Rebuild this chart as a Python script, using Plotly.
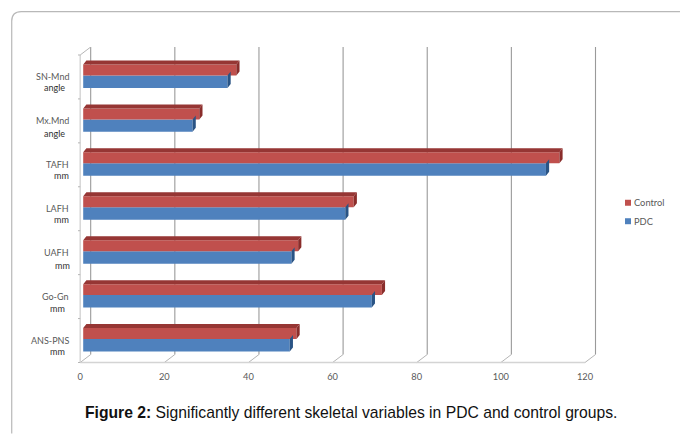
import plotly.graph_objects as go

categories = ["ANS-PNS", "Go-Gn", "UAFH", "LAFH", "TAFH", "Mx.Mnd", "SN-Mnd"]
units = ["mm", "mm", "mm", "mm", "mm", "angle", "angle"]
control = [50.7, 71.0, 51.1, 64.3, 113.2, 27.6, 36.4]
pdc = [49.1, 68.6, 49.5, 62.3, 110.0, 26.0, 34.3]
x_ticks = [0, 20, 40, 60, 80, 100, 120]

W, H = 680, 434
X0, XK = 80.0, 505.0 / 120      # px of value 0, px per unit
Y0, YK = 341.0, 44.0            # px of category 0, px per category
L, R, T, B = 75.8, 600.0, 47.0, 365.5
xr = [(L - X0) / XK, (R - X0) / XK]
yr = [(Y0 - B) / YK, (Y0 - T) / YK]
px = lambda v: v / XK
py = lambda v: v / YK
pap_x = lambda p: (p - L) / (R - L)
pap_y = lambda p: (B - p) / (B - T)

BASE = px(3)
DX, DY = px(3.2), py(4.0)
WALL_X, WALL_Y = px(10.5), py(8)
RED_HI, RED_LO = py(12.5), py(1.5)
BLUE_HI, BLUE_LO = py(1.5), py(-11)
idx = list(range(len(categories)))
FLOOR = -0.5
TOP = len(categories) - 0.5
FONT = "Lato"
TXT_SIZE = 9.3
CAT_SIZE = 9

fig = go.Figure()

# Front faces
fig.add_bar(orientation="h", y=idx, x=pdc, base=BASE, offset=BLUE_LO, width=BLUE_HI - BLUE_LO,
            name="PDC", marker=dict(color="#4f81bd", line_width=0), showlegend=False)
fig.add_bar(orientation="h", y=idx, x=control, base=BASE, offset=RED_LO, width=RED_HI - RED_LO,
            name="Control", marker=dict(color="#c0504d", line_width=0), showlegend=False)


def side_faces(values, lo, hi, color):
    xs, ys = [], []
    for i, v in zip(idx, values):
        e = BASE + v
        xs += [e, e + DX, e + DX, e, None]
        ys += [i + hi, i + hi + DY, i + lo + DY, i + lo, None]
    fig.add_scatter(x=xs, y=ys, mode="lines", fill="toself", fillcolor=color,
                    line=dict(width=0, color=color), showlegend=False, hoverinfo="skip")


def top_faces(values, hi, color):
    xs, ys = [], []
    for i, v in zip(idx, values):
        e = BASE + v
        xs += [BASE, BASE + DX, e + DX, e, None]
        ys += [i + hi, i + hi + DY, i + hi + DY, i + hi, None]
    fig.add_scatter(x=xs, y=ys, mode="lines", fill="toself", fillcolor=color,
                    line=dict(width=0, color=color), showlegend=False, hoverinfo="skip")


side_faces(pdc, BLUE_LO, BLUE_HI, "#2a5485")
side_faces(control, RED_LO, RED_HI, "#8a2d2b")
top_faces(control, RED_HI, "#963634")

# Walls and floor
shapes = []
GRID = "#9a9a9a"
LIGHT = "#d4d4d4"


def seg(x0, y0, x1, y1, color, width=1.0):
    shapes.append(dict(type="line", xref="x", yref="y", x0=x0, y0=y0, x1=x1, y1=y1,
                       line=dict(color=color, width=width), layer="below"))


for t in x_ticks:
    seg(t + WALL_X, FLOOR + WALL_Y, t + WALL_X, TOP + WALL_Y, GRID, 1.1)
    seg(t, FLOOR, t + WALL_X, FLOOR + WALL_Y, "#b5b5b5")
seg(x_ticks[0], FLOOR, x_ticks[-1], FLOOR, LIGHT, 1.4)
seg(0, FLOOR, 0, TOP, LIGHT, 1.4)
seg(0, TOP, WALL_X, TOP + WALL_Y, "#b5b5b5")
for i in range(len(categories) + 1):
    seg(px(-2.2), FLOOR + i, 0, FLOOR + i, "#b5b5b5")

# Panel border
path = "M {} {} L {} {} Q {} {} {} {} L {} {}".format(
    pap_x(W), pap_y(11.5), pap_x(21), pap_y(11.5), pap_x(11.5), pap_y(11.5),
    pap_x(11.5), pap_y(21), pap_x(11.5), pap_y(H))
shapes.append(dict(type="path", xref="paper", yref="paper", path=path,
                   line=dict(color="#b8b8b8", width=1.2), layer="below"))

# Category labels, two lines each
anns = []
second_line_shift = [11, 12, 13, 11, 11, 13, 11]
second_line_right = [66, 66, 71, 70, 70, 66, 66]
for i, (c, u) in enumerate(zip(categories, units)):
    anns.append(dict(x=pap_x(71), y=pap_y(Y0 - i * YK), xref="paper", yref="paper",
                     text=c, showarrow=False, xanchor="right", yanchor="middle",
                     font=dict(family=FONT, size=CAT_SIZE, color="#595959")))
    anns.append(dict(x=pap_x(second_line_right[i] + 0.5), y=pap_y(Y0 - i * YK + second_line_shift[i]),
                     xref="paper", yref="paper", text=u, showarrow=False,
                     xanchor="right", yanchor="middle",
                     font=dict(family=FONT, size=CAT_SIZE, color="#2f2f2f")))

# Legend
for name, color, ly in [("Control", "#c0504d", 203), ("PDC", "#4f81bd", 221.5)]:
    shapes.append(dict(type="rect", xref="paper", yref="paper",
                       x0=pap_x(625), x1=pap_x(631), y0=pap_y(ly - 3), y1=pap_y(ly + 3),
                       fillcolor=color, line_width=0))
    anns.append(dict(x=pap_x(632), y=pap_y(ly), xref="paper", yref="paper", text=name,
                     showarrow=False, xanchor="left", yanchor="middle",
                     font=dict(family=FONT, size=TXT_SIZE, color="#595959")))

anns.append(dict(x=pap_x(83), y=pap_y(413), xref="paper", yref="paper", showarrow=False,
                 xanchor="left", yanchor="middle",
                 text="<b>Figure 2:</b> Significantly different skeletal variables in PDC and control groups.",
                 font=dict(family="Liberation Sans", size=15.7, color="#111111")))

fig.update_layout(
    width=W, height=H, autosize=False,
    margin=dict(l=L, r=W - R, t=T, b=H - B, pad=0),
    paper_bgcolor="white", plot_bgcolor="white",
    barmode="overlay", showlegend=False,
    xaxis=dict(range=xr, tickvals=x_ticks, showgrid=False, zeroline=False, showline=False,
               ticks="", ticklabelstandoff=5,
               tickfont=dict(family=FONT, size=TXT_SIZE, color="#595959")),
    yaxis=dict(range=yr, showticklabels=False, showgrid=False, zeroline=False,
               showline=False, ticks=""),
    shapes=shapes, annotations=anns,
)

fig.write_html("out.html", post_script="document.body.style.margin='0';",
               config={"displayModeBar": False})
